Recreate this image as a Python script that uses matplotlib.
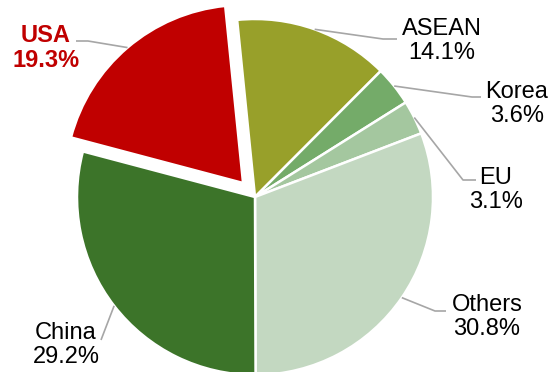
import numpy as np
import matplotlib
matplotlib.use('Agg')
import matplotlib.pyplot as plt

# Data (clockwise from the top)
regions = ['ASEAN', 'Korea', 'EU', 'Others', 'China', 'USA']
shares = [14.1, 3.6, 3.1, 30.8, 29.2, 19.3]
colors = ['#98A02A', '#74AB69', '#A4C79F', '#C3D8C1', '#3C7429', '#C00000']

# Label layout in pixel coords (image y measured from the top)
label_xy = {'ASEAN': (442, 41), 'Korea': (517, 104), 'EU': (496, 190),
            'Others': (487, 317), 'China': (66, 345), 'USA': (46, 48)}
elbow_xy = {'ASEAN': [(383, 39), (397, 39)], 'Korea': [(472, 97), (481, 97)],
            'EU': [(463, 180), (476, 180)], 'Others': [(435, 311), (446, 311)],
            'China': [(101, 340)], 'USA': [(88, 41), (76, 41)]}

W, H = 552, 372
fig = plt.figure(figsize=(W / 100, H / 100), dpi=100)
ax = fig.add_axes([0, 0, 1, 1])
ax.set_xlim(0, W)
ax.set_ylim(0, H)
ax.set_aspect('equal')
ax.axis('off')

cx, cy, r = 255, H - 197, 178
explode = [18.4 if n == 'USA' else 0 for n in regions]

wedges, _ = ax.pie(shares, colors=colors, startangle=95.76, counterclock=False,
                   center=(cx, cy), radius=r, explode=explode, frame=True,
                   wedgeprops=dict(edgecolor='white', linewidth=1.8))
ax.set_xlim(0, W)
ax.set_ylim(0, H)
ax.axis('off')

plt.rcParams['font.family'] = ['Liberation Sans', 'DejaVu Sans']

for w, name, val in zip(wedges, regions, shares):
    mid = np.deg2rad((w.theta1 + w.theta2) / 2)
    wx, wy = w.center
    ax_pt = (wx + w.r * np.cos(mid), wy + w.r * np.sin(mid))
    pts = [ax_pt] + [(x, H - y) for x, y in elbow_xy[name]]
    xs, ys = zip(*pts)
    ax.plot(xs, ys, color='#A6A6A6', linewidth=1.2, solid_capstyle='butt')
    tx, ty = label_xy[name]
    if name == 'USA':
        ax.text(tx, H - ty, f'{name}\n{val}%', ha='center', va='center',
                fontsize=17, fontweight='bold', color='#C00000', linespacing=1.15)
    else:
        ax.text(tx, H - ty, f'{name}\n{val}%', ha='center', va='center',
                fontsize=17, color='black', linespacing=1.15)

fig.savefig('out.png', dpi=100)
